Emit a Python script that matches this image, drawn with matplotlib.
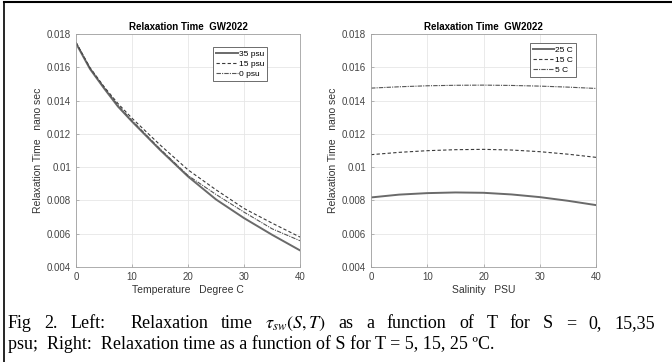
import numpy as np
import matplotlib
matplotlib.use("Agg")
import matplotlib.pyplot as plt
from matplotlib.lines import Line2D

# Left panel: relaxation time vs temperature
temp = [0, 2.5, 5, 7.5, 10, 15, 20, 25, 30, 35, 40]
tau_s35 = [0.01744, 0.01590, 0.01474, 0.01364, 0.01274, 0.01104, 0.00944, 0.00806, 0.00694, 0.00594, 0.00500]
tau_s15 = [0.01750, 0.01598, 0.01484, 0.01382, 0.01294, 0.01134, 0.00984, 0.00864, 0.00752, 0.00664, 0.00580]
tau_s0 = [0.01750, 0.01595, 0.01480, 0.01372, 0.01280, 0.01110, 0.00950, 0.00836, 0.00730, 0.00630, 0.00558]

# Right panel: relaxation time vs salinity
sal = [0, 5, 10, 15, 20, 25, 30, 35, 40]
tau_t25 = [0.00818, 0.00835, 0.00844, 0.00848, 0.00846, 0.00836, 0.00820, 0.00798, 0.00772]
tau_t15 = [0.01075, 0.01089, 0.01099, 0.01105, 0.01107, 0.01103, 0.01093, 0.01078, 0.01059]
tau_t5 = [0.01475, 0.01483, 0.01489, 0.01492, 0.01493, 0.01491, 0.01487, 0.01481, 0.01473]

yticks = [0.004, 0.006, 0.008, 0.010, 0.012, 0.014, 0.016, 0.018]
ytick_labels = ["0.004", "0.006", "0.008", "0.01", "0.012", "0.014", "0.016", "0.018"]
xticks = [0, 10, 20, 30, 40]

caption1 = r"Fig 2. Left:  Relaxation time $\tau_{sw}(S,T)$ as a function of T for S = 0, 15,35"
caption2 = "psu;  Right:  Relaxation time as a function of S for T = 5, 15, 25 \u00baC."

plt.rcParams["font.family"] = ["Liberation Sans", "DejaVu Sans"]
plt.rcParams["mathtext.fontset"] = "stix"

fig = plt.figure(figsize=(6.72, 3.62), dpi=100)
ax1 = fig.add_axes([0.1131, 0.2624, 0.3333, 0.6436])
ax2 = fig.add_axes([0.5521, 0.2624, 0.3348, 0.6436])


def style_axes(ax, xlabel):
    ax.set_xlim(0, 40)
    ax.set_ylim(0.004, 0.018)
    ax.set_xticks(xticks)
    ax.set_yticks(yticks)
    ax.set_yticklabels(ytick_labels)
    ax.grid(True, color="#e6e6e6", linewidth=0.6)
    ax.set_axisbelow(True)
    ax.tick_params(direction="in", length=2.5, width=0.5, colors="#9a9a9a",
                   labelcolor="#444444", labelsize=7)
    for sp in ax.spines.values():
        sp.set_color("#a0a0a0")
        sp.set_linewidth(0.6)
    ax.set_title("Relaxation Time  GW2022", fontsize=7, fontweight="bold", pad=3)
    ax.set_xlabel(xlabel, fontsize=7.5, color="#333333", labelpad=2)
    ax.set_ylabel("Relaxation Time   nano sec", fontsize=7.5, color="#333333", labelpad=3)


def add_legend(ax, anchor):
    leg = ax.legend(loc="upper right", bbox_to_anchor=anchor, fontsize=6,
                    fancybox=False, edgecolor="#555555", framealpha=1,
                    handlelength=2.6, handletextpad=0.1, borderpad=0.35,
                    labelspacing=0.25, borderaxespad=0)
    leg.get_frame().set_linewidth(0.6)


ax1.plot(temp, tau_s35, color="#6a6a6a", linewidth=1.4, label="35 psu")
ax1.plot(temp, tau_s15, color="#3a3a3a", linewidth=0.8, linestyle=(0, (3, 2)), label="15 psu")
ax1.plot(temp, tau_s0, color="#555555", linewidth=0.8, linestyle=(0, (4, 1, 1, 1)), label="0 psu")
style_axes(ax1, "Temperature   Degree C")
add_legend(ax1, (0.853, 0.944))

ax2.plot(sal, tau_t25, color="#6a6a6a", linewidth=1.4, label="25 C")
ax2.plot(sal, tau_t15, color="#3a3a3a", linewidth=0.8, linestyle=(0, (3, 2)), label="15 C")
ax2.plot(sal, tau_t5, color="#555555", linewidth=0.8, linestyle=(0, (4, 1, 1, 1)), label="5 C")
style_axes(ax2, "Salinity   PSU")
add_legend(ax2, (0.911, 0.961))

# caption: first line justified across the page width
cap_font = ["Liberation Serif", "DejaVu Serif"]
cap_size = 13
x_left, x_right = 8, 655
renderer = fig.canvas.get_renderer()
words = caption1.split(" ")
texts = [fig.text(0, 34 / 362, w, fontsize=cap_size, family=cap_font, va="baseline")
         for w in words]
widths = [t.get_window_extent(renderer).width if w else 0 for t, w in zip(texts, words)]
gap = (x_right - x_left - sum(widths)) / (len(words) - 1)
x = x_left
for t, wd in zip(texts, widths):
    t.set_x(x / 672)
    x += wd + gap
fig.text(x_left / 672, 13 / 362, caption2, fontsize=cap_size, family=cap_font, va="baseline")

# page frame (top and left edges)
fig.add_artist(Line2D([0.006, 1.0], [0.994, 0.994], transform=fig.transFigure,
                      color="black", linewidth=1.5))
fig.add_artist(Line2D([0.006, 0.006], [0.0, 0.994], transform=fig.transFigure,
                      color="black", linewidth=1.2))

fig.savefig("out.png", dpi=100)
